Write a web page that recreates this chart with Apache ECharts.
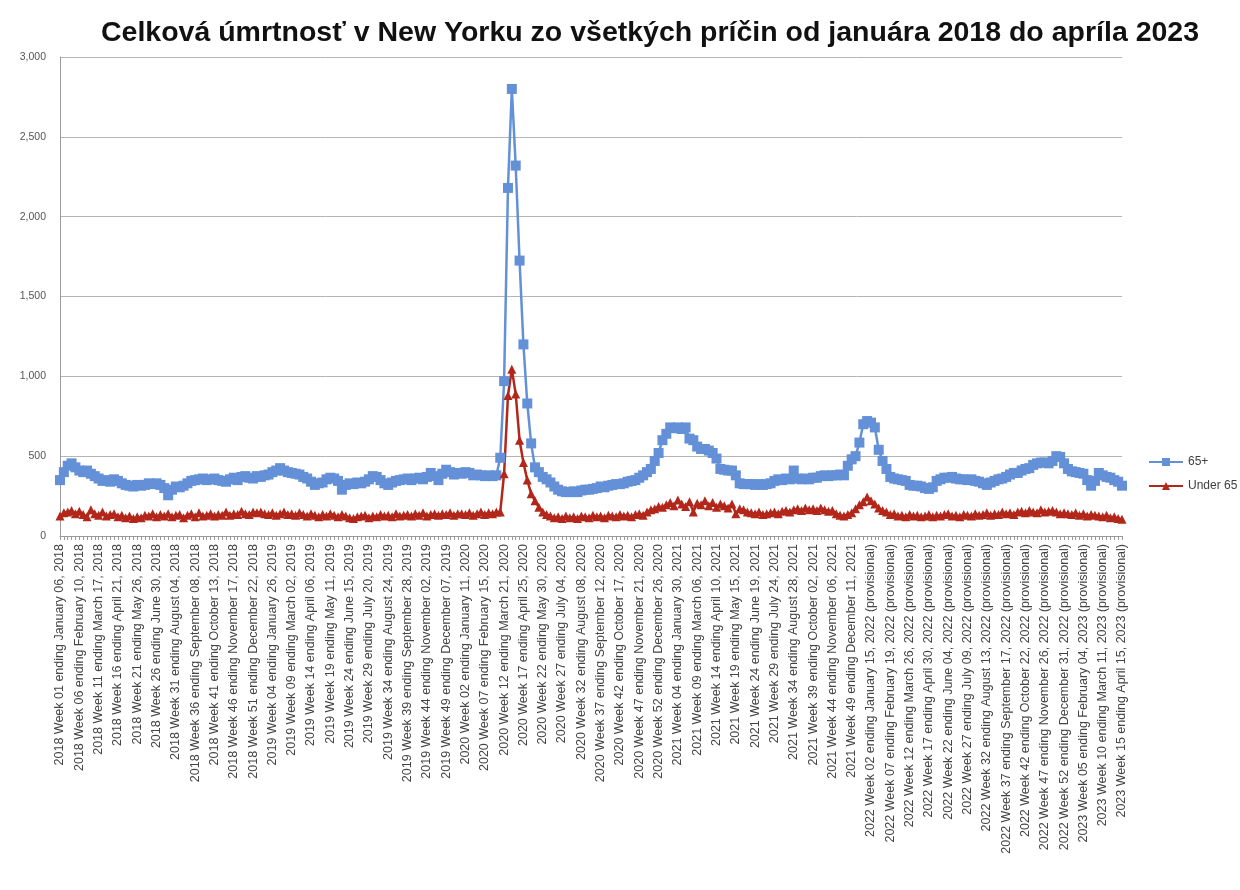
<!DOCTYPE html>
<html>
<head>
<meta charset="utf-8">
<script src="https://cdn.jsdelivr.net/npm/echarts@6/dist/echarts.min.js"></script>
<style>
html,body{margin:0;padding:0;background:#fff;}
#chart{width:1240px;height:890px;}
</style>
</head>
<body>
<div id="chart"></div>
<script>
// ---- Data ----
const titleText = 'Celková úmrtnosť v New Yorku zo všetkých príčin od januára 2018 do apríla 2023';
const seriesNames = ['65+', 'Under 65'];

// category structure (MMWR weeks), first week ends Saturday Jan 06, 2018
const years = [2018, 2019, 2020, 2021, 2022, 2023];
const weeksPerYear = [52, 52, 53, 52, 52, 15];
const firstWeekEnd = [2018, 0, 6];
const provisionalFromYear = 2022;
const monthNames = ['January','February','March','April','May','June','July','August','September','October','November','December'];

const over65_2018 = [350,400,440,455,430,410,400,410,390,375,360,345,350,340,355,345,330,320,315,310,320,315,320,330,325,330,320,300,255,290,310,305,315,330,345,350,355,360,350,355,360,350,345,340,355,365,350,370,375,365,360,375];
const over65_2019 = [370,380,385,400,410,425,410,400,395,390,385,370,360,340,320,330,335,355,365,360,345,290,320,330,325,335,330,340,355,375,370,350,330,320,335,345,350,355,360,350,360,365,355,370,395,375,350,390,415,400,385,395];
const over65_2020 = [390,400,395,380,385,380,375,380,375,380,490,970,2180,2800,2320,1725,1200,830,580,430,400,370,355,335,310,290,280,275,275,280,275,285,290,290,295,300,310,305,315,320,325,325,330,340,345,350,365,380,400,420,470,520,600];
const over65_2021 = [640,680,675,680,670,680,610,600,560,545,545,535,520,485,420,415,410,410,380,330,325,325,325,320,325,320,325,330,345,355,350,360,355,410,360,355,360,355,365,365,375,380,375,380,380,385,380,440,480,500,585,700];
const over65_2022 = [720,710,680,540,470,420,370,360,355,350,345,320,315,315,310,300,295,305,345,355,365,365,370,360,355,355,350,355,345,340,330,320,335,345,355,360,370,385,395,395,410,420,425,445,455,460,460,455,470,500,495,455];
const over65_2023 = [420,405,400,395,390,350,315,345,395,380,370,365,350,340,315];

const under65_2018 = [125,145,150,160,140,155,135,120,165,140,130,150,125,135,140,120,130,115,125,110,120,115,130,125,140,120,135,125,140,120,130,135,115,130,140,120,145,125,130,140,125,135,130,150,130,140,135,155,140,135,150,145];
const under65_2019 = [150,140,135,145,130,140,150,135,140,130,145,135,125,140,130,120,135,125,140,130,120,135,125,115,110,120,125,130,115,125,120,135,125,130,120,140,125,130,135,125,140,130,145,125,135,140,130,140,135,145,130,140];
const under65_2020 = [140,135,145,130,140,150,135,145,140,150,150,390,880,1045,890,600,460,350,265,220,180,150,135,125,115,120,110,125,115,120,110,125,120,115,130,120,125,115,130,125,120,135,125,130,120,135,140,130,150,165,170,185,180];
const under65_2021 = [195,210,190,225,200,185,215,150,205,195,220,190,210,180,200,190,175,200,140,170,165,150,145,140,150,135,140,145,150,140,155,160,150,165,170,160,175,165,170,160,175,165,155,160,140,130,125,135,145,170,195,215];
const under65_2022 = [245,220,200,175,160,150,135,140,125,130,120,135,125,130,120,125,135,120,130,125,135,140,125,130,120,135,130,125,140,130,135,145,130,140,135,150,140,145,135,150,155,145,160,150,145,165,150,155,160,150,140,145];
const under65_2023 = [140,135,145,130,140,125,135,130,125,120,130,115,120,110,105];

const yTicks = { min: 0, max: 3000, interval: 500 };

// ---- Build categories ----
const categories = [];
(function(){
  let d = new Date(Date.UTC(firstWeekEnd[0], firstWeekEnd[1], firstWeekEnd[2]));
  years.forEach((y, yi) => {
    for (let w = 1; w <= weeksPerYear[yi]; w++) {
      const dd = String(d.getUTCDate()).padStart(2, '0');
      let s = y + ' Week ' + String(w).padStart(2, '0') + ' ending ' + monthNames[d.getUTCMonth()] + ' ' + dd + ', ' + d.getUTCFullYear();
      if (y >= provisionalFromYear) s += ' (provisional)';
      categories.push(s);
      d = new Date(d.getTime() + 7 * 86400000);
    }
  });
})();

const over65 = [].concat(over65_2018, over65_2019, over65_2020, over65_2021, over65_2022, over65_2023);
const under65 = [].concat(under65_2018, under65_2019, under65_2020, under65_2021, under65_2022, under65_2023);

const chart = echarts.init(document.getElementById('chart'), null, { renderer: 'canvas' });
chart.setOption({
  backgroundColor: '#ffffff',
  animation: false,
  title: {
    text: titleText,
    left: 645, textAlign: 'center', top: 14,
    textStyle: { fontFamily: 'Liberation Sans, Arial, sans-serif', fontWeight: 'bold', fontSize: 28.5, color: '#111' }
  },
  legend: {
    orient: 'vertical', left: 1143, top: 451, itemGap: 12, itemWidth: 34, itemHeight: 10,
    textStyle: { fontFamily: 'Liberation Sans, Arial, sans-serif', fontSize: 12, color: '#404040' },
    data: seriesNames
  },
  grid: { left: 60, right: 118, top: 57, bottom: 354, containLabel: false },
  xAxis: {
    type: 'category', data: categories, boundaryGap: false,
    axisLine: { lineStyle: { color: '#9a9a9a', width: 1 } },
    axisTick: { show: true, interval: 0, length: 4, lineStyle: { color: '#9a9a9a' } },
    axisLabel: { interval: 4, rotate: 90, fontSize: 12.5, color: '#444', margin: 8,
      fontFamily: 'Liberation Sans, Arial, sans-serif' },
    splitLine: { show: false }
  },
  yAxis: {
    type: 'value', min: yTicks.min, max: yTicks.max, interval: yTicks.interval,
    axisLine: { show: true, lineStyle: { color: '#9a9a9a' } },
    axisTick: { show: false },
    axisLabel: { fontSize: 10.5, color: '#555', margin: 14, fontFamily: 'Liberation Sans, Arial, sans-serif',
      formatter: v => v.toLocaleString('en-US') },
    splitLine: { lineStyle: { color: '#b5b5b5', width: 1 } }
  },
  series: [
    { name: seriesNames[0], type: 'line', data: over65, symbol: 'rect', symbolSize: 10, showAllSymbol: true,
      color: '#6490d8', lineStyle: { width: 2.5, color: '#6490d8' }, itemStyle: { color: '#6490d8' } },
    { name: seriesNames[1], type: 'line', data: under65, symbol: 'triangle', symbolSize: 9, showAllSymbol: true,
      color: '#b3261a', lineStyle: { width: 2.5, color: '#b3261a' }, itemStyle: { color: '#b3261a' } }
  ]
});
</script>
</body>
</html>
